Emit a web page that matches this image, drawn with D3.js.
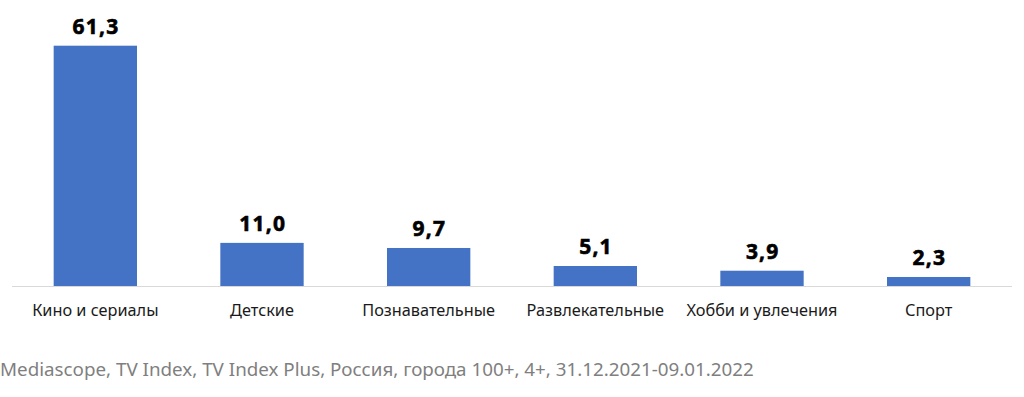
<!DOCTYPE html>
<html>
<head>
<meta charset="utf-8">
<script src="https://cdn.jsdelivr.net/npm/d3@7"></script>
<style>
  body { margin: 0; background: #fff; }
  svg { display: block; font-family: "Noto Sans", sans-serif; }
</style>
</head>
<body>
<div id="chart"></div>
<script>
var categories = ['Кино и сериалы', 'Детские', 'Познавательные', 'Развлекательные', 'Хобби и увлечения', 'Спорт'];
var values = [61.3, 11.0, 9.7, 5.1, 3.9, 2.3];
var valueLabels = ['61,3', '11,0', '9,7', '5,1', '3,9', '2,3'];
var sourceText = 'Mediascope, TV Index, TV Index Plus, Россия, города 100+, 4+, 31.12.2021-09.01.2022';

var width = 1024, height = 397;
var baseY = 286;

var data = categories.map(function(c, i) {
    return { cat: c, value: values[i], label: valueLabels[i] };
});

var x = d3.scaleBand()
    .domain(categories)
    .range([12, 1012])
    .paddingInner(0.5)
    .paddingOuter(0.25);

var y = d3.scaleLinear()
    .domain([0, 61.3])
    .range([baseY, 45.7]);

var svg = d3.select('#chart')
    .append('svg')
    .attr('width', width)
    .attr('height', height);

svg.selectAll('.bar')
    .data(data)
    .enter().append('rect')
    .attr('class', 'bar')
    .attr('fill', '#4472c4')
    .attr('x', function(d) { return x(d.cat); })
    .attr('width', x.bandwidth())
    .attr('y', function(d) { return y(d.value); })
    .attr('height', function(d) { return baseY - y(d.value); });

// baseline
svg.append('line')
    .attr('x1', 12).attr('x2', 1012)
    .attr('y1', baseY + 0.5).attr('y2', baseY + 0.5)
    .attr('stroke', '#d9d9d9')
    .attr('stroke-width', 1);

svg.selectAll('.val')
    .data(data)
    .enter().append('text')
    .attr('class', 'val')
    .attr('x', function(d) { return x(d.cat) + x.bandwidth() / 2 + 0.7; })
    .attr('y', function(d) { return y(d.value) - 12; })
    .attr('text-anchor', 'middle')
    .attr('font-size', 21)
    .attr('font-weight', 'bold')
    .attr('letter-spacing', 1.2)
    .attr('fill', '#000')
    .attr('stroke', '#000')
    .attr('stroke-width', 0.6)
    .text(function(d) { return d.label; });

svg.selectAll('.cat')
    .data(data)
    .enter().append('text')
    .attr('class', 'cat')
    .attr('x', function(d) { return x(d.cat) + x.bandwidth() / 2; })
    .attr('y', 316)
    .attr('text-anchor', 'middle')
    .attr('font-size', 16.3)
    .attr('fill', '#1a1a1a')
    .text(function(d) { return d.cat; });

svg.append('text')
    .attr('x', 0)
    .attr('y', 376)
    .attr('font-size', 18.8)
    .attr('fill', '#7f7f7f')
    .text(sourceText);
</script>
</body>
</html>
